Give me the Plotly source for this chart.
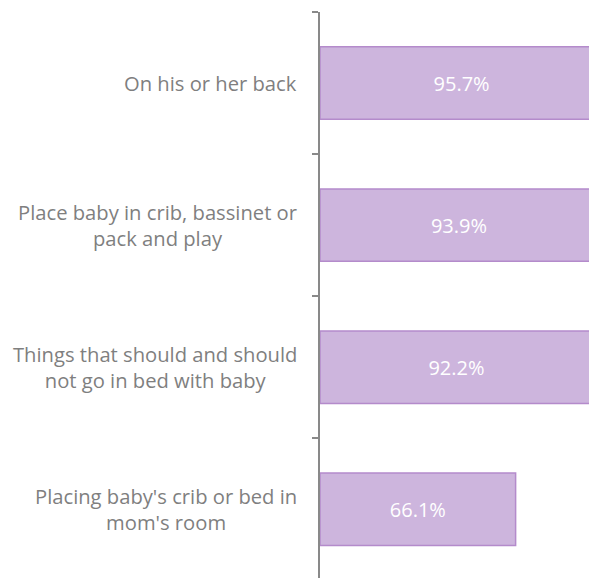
import plotly.graph_objects as go

categories = ["On his or her back",
              "Place baby in crib, bassinet or<br>pack and play",
              "Things that should and should<br>not go in bed with baby",
              "Placing baby's crib or bed in<br>mom's room"]
values = [95.7, 93.9, 92.2, 66.1]
value_labels = [f"{v:.1f}%" for v in values]

keys = ["c0", "c1", "c2", "c3"]

fig = go.Figure()
fig.add_trace(go.Bar(
    y=keys, x=values, orientation="h",
    marker=dict(color="#CDB5DD", line=dict(color="#B48BCB", width=1.5)),
    text=value_labels, textposition="inside", insidetextanchor="middle",
    textfont=dict(color="white", size=20, family="Open Sans"),
    width=0.51, cliponaxis=True, constraintext="none",
    hoverinfo="skip",
))

for k, c in zip(keys, categories):
    fig.add_annotation(x=0, y=k, xref="paper", yref="y", text=c,
                       xanchor="right", yanchor="middle", align="center",
                       xshift=-21, showarrow=False,
                       font=dict(color="#7F7F7F", size=20.2, family="Open Sans"))

fig.update_layout(
    width=589, height=578,
    margin=dict(l=312, r=0, t=4, b=0),
    paper_bgcolor="white", plot_bgcolor="white",
    showlegend=False,
    xaxis=dict(range=[0, 93.6], visible=False, showgrid=False, zeroline=False),
    yaxis=dict(range=[3.54, -0.5], categoryorder="array", categoryarray=keys,
               showticklabels=False, showgrid=False, zeroline=False,
               showline=True, linecolor="#898989", linewidth=1.5,
               ticks="outside", ticklen=6, tickcolor="#898989", tickwidth=1.5,
               tickson="boundaries"),
)
fig.write_html("out.html")
